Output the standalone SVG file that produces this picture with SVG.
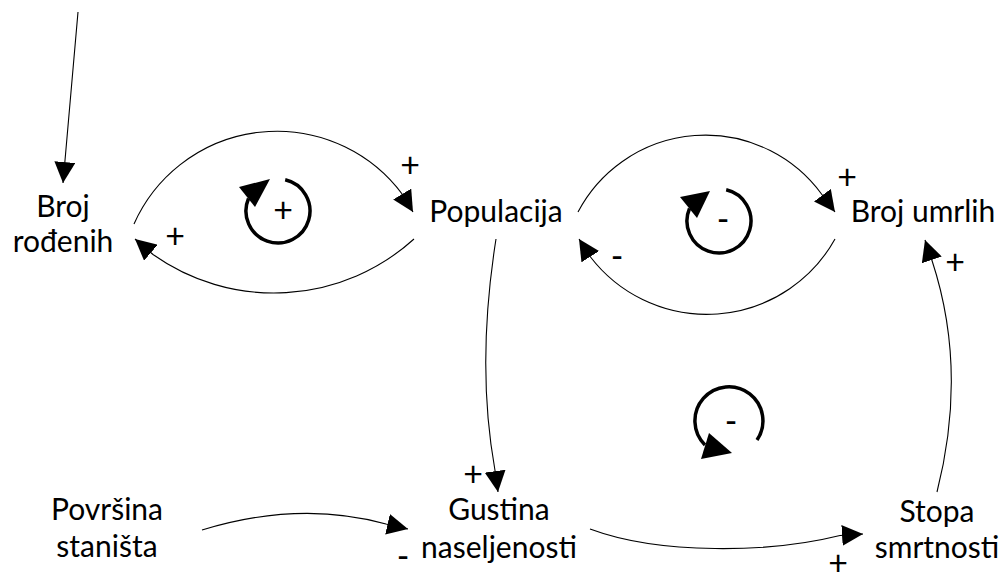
<svg xmlns="http://www.w3.org/2000/svg" width="1002" height="580" viewBox="0 0 1002 580">
<style>
.t{font-family:Lato,"Open Sans",sans-serif;font-size:30px;fill:#000;text-anchor:middle}
.s{font-family:Lato,"Open Sans",sans-serif;font-size:34px;fill:#000;text-anchor:middle}
.c{fill:none;stroke:#000;stroke-width:1.1;marker-end:url(#ah)}
.loop{fill:none;stroke:#000;stroke-width:3.5}
.lh{fill:#000}
</style>
<defs>
<marker id="ah" markerUnits="userSpaceOnUse" markerWidth="21" markerHeight="21" viewBox="0 0 21 21" refX="21" refY="10.5" orient="auto">
<path d="M0,0 L21,10.5 L0,21 z" fill="#000"/>
</marker>
</defs>
<rect width="1002" height="580" fill="#fff"/>
<g id="connectors">
<path class="c" d="M78,12 L64.5,166 L63,183"/>
<path class="c" d="M134,224 A156.4,156.4 0 0,1 402.5,194.5 L413,212"/>
<path class="c" d="M414,239 A208.8,208.8 0 0,1 153,254.5 L135,239"/>
<path class="c" d="M578,212 A144,144 0 0,1 821.5,194 L835,212"/>
<path class="c" d="M835,239 A146.7,146.7 0 0,1 590.5,257 L579,239"/>
<path class="c" d="M496,239 Q476,365 495,470.5 L498,492"/>
<path class="c" d="M202,530 Q300,500 386,524 L408,529"/>
<path class="c" d="M590,529 C660,555 770,553 840,535.5 L863,534"/>
<path class="c" d="M937,492 Q968,370 932,260.5 L925,240"/>
</g>
<g id="polarity">
<text class="s" x="410" y="177">+</text>
<text class="s" x="175" y="248">+</text>
<text class="s" x="847" y="189">+</text>
<text class="s" x="617" y="268">-</text>
<text class="s" x="473" y="486">+</text>
<text class="s" x="838" y="575">+</text>
<text class="s" x="403" y="568">-</text>
<text class="s" x="955" y="274">+</text>
</g>
<g id="loop-R">
<path class="loop" d="M285.2,179.8 A32,32 0 1,1 248.5,198.5"/>
<polygon class="lh" points="239,187 270,179 255,207"/>
<text class="s" x="283" y="222">+</text>
</g>
<g id="loop-B1">
<path class="loop" d="M726.2,189.8 A32,32 0 1,1 689.5,208.5"/>
<polygon class="lh" points="680,197 710,191 697,218"/>
<text class="s" x="723" y="231">-</text>
</g>
<g id="loop-B2">
<path class="loop" d="M757,440 A34,34 0 1,0 705,445"/>
<polygon class="lh" points="709,433 732,453 701,459"/>
<text class="s" x="731" y="433">-</text>
</g>
<g id="broj-rodjenih"><text class="t" x="63" y="217">Broj</text><text class="t" x="63" y="252">rođenih</text></g>
<g id="populacija"><text class="t" x="496" y="222">Populacija</text></g>
<g id="broj-umrlih"><text class="t" x="923" y="222">Broj umrlih</text></g>
<g id="povrsina-stanista"><text class="t" x="107" y="520">Površina</text><text class="t" x="107" y="557">staništa</text></g>
<g id="gustina-naseljenosti"><text class="t" x="499" y="520">Gustina</text><text class="t" x="499" y="558">naseljenosti</text></g>
<g id="stopa-smrtnosti"><text class="t" x="937" y="522">Stopa</text><text class="t" x="937" y="558">smrtnosti</text></g>
</svg>
